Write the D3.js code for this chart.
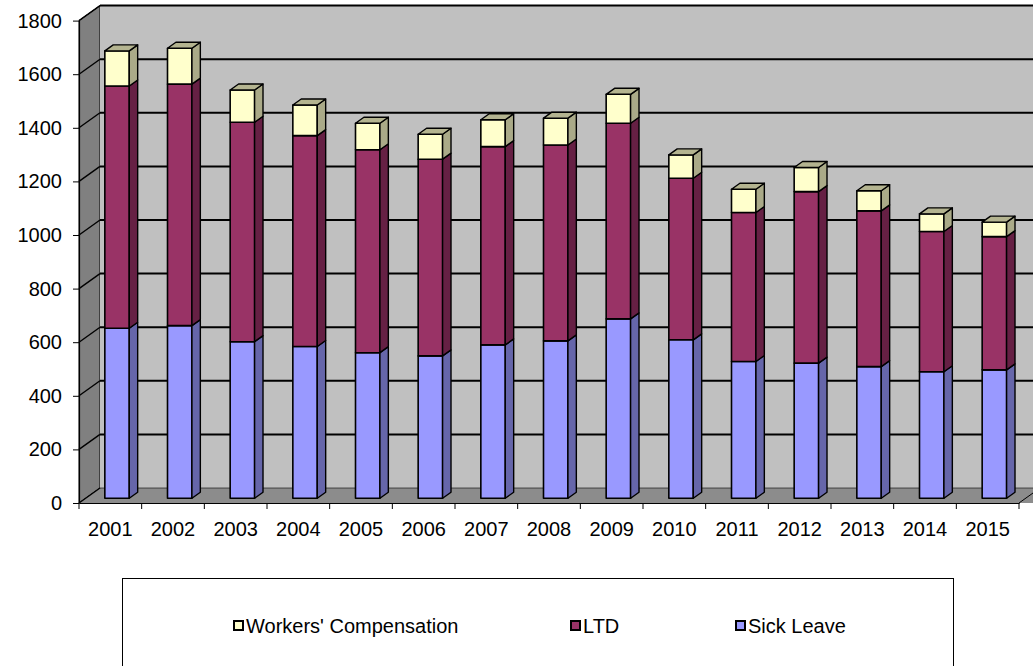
<!DOCTYPE html>
<html>
<head>
<meta charset="utf-8">
<script src="https://cdn.jsdelivr.net/npm/d3@7"></script>
<style>
  body { margin: 0; background: #fff; }
  svg { display: block; font-family: Arial, "Liberation Sans", sans-serif; }
</style>
</head>
<body>
<div id="chart"></div>
<script>
const years = ["2001","2002","2003","2004","2005","2006","2007","2008","2009","2010","2011","2012","2013","2014","2015"];
const sickLeave = [634, 644, 584, 566, 543, 531, 572, 587, 669, 591, 510, 504, 491, 472, 479];
const ltd = [904, 901, 819, 787, 757, 734, 740, 731, 730, 603, 556, 640, 581, 523, 497];
const workersComp = [131, 134, 120, 114, 99, 93, 100, 100, 108, 87, 87, 90, 75, 66, 54];
const yTicks = [0, 200, 400, 600, 800, 1000, 1200, 1400, 1600, 1800];

const series = [
  { name: "Sick Leave", values: sickLeave, front: "#9999ff", side: "#6666aa", topFill: "#8080d0" },
  { name: "LTD", values: ltd, front: "#993366", side: "#662044", topFill: "#7a2952" },
  { name: "Workers' Compensation", values: workersComp, front: "#ffffcc", side: "#aaaa88", topFill: "#b4b490" }
];
const legendOrder = ["Workers' Compensation", "LTD", "Sick Leave"];

const W = 1033, H = 666;
const plotLeft = 79, plotRight = 1019, base = 503;
const depth = { dx: 21, dy: -15 };
const f0 = 0.32, f1 = 0.72;
const fontSize = 20;
const fontFamily = "Arial, 'Liberation Sans', sans-serif";

const svg = d3.select("#chart").append("svg")
  .attr("width", W).attr("height", H);

const x = d3.scaleBand().domain(years).range([plotLeft, plotRight])
  .paddingInner(0.61).paddingOuter(0.305);
const y = d3.scaleLinear().domain([0, 1800]).range([base, 20.6]);

const pts = a => a.map(p => p.join(",")).join(" ");
const yTop = y(1800);

// left side wall
svg.append("polygon")
  .attr("points", pts([[plotLeft, base], [plotLeft + depth.dx, base + depth.dy], [plotLeft + depth.dx, yTop + depth.dy], [plotLeft, yTop]]))
  .attr("fill", "#808080").attr("stroke", "#000").attr("stroke-width", 1);

// back wall
svg.append("rect")
  .attr("x", plotLeft + depth.dx).attr("y", yTop + depth.dy)
  .attr("width", W - plotLeft - depth.dx + 5).attr("height", base - yTop)
  .attr("fill", "#c0c0c0");

// floor
svg.append("polygon")
  .attr("points", pts([[plotLeft, base], [plotLeft + depth.dx, base + depth.dy], [W + 5, base + depth.dy], [W + 5, base], [plotRight, base]]))
  .attr("fill", "#8c8c8c");
svg.append("line")
  .attr("x1", plotRight).attr("y1", base)
  .attr("x2", plotRight + depth.dx).attr("y2", base + depth.dy)
  .attr("stroke", "#000").attr("stroke-width", 1);

// gridlines: back wall + left wall diagonals
yTicks.forEach(t => {
  const yb = y(t) + depth.dy;
  svg.append("line")
    .attr("x1", plotLeft + depth.dx).attr("x2", W)
    .attr("y1", yb).attr("y2", yb)
    .attr("stroke", "#000").attr("stroke-width", t === 0 ? 0.6 : 2);
  svg.append("line")
    .attr("x1", plotLeft).attr("y1", y(t))
    .attr("x2", plotLeft + depth.dx).attr("y2", yb)
    .attr("stroke", "#000").attr("stroke-width", 1.4);
});

// bars
const bdx = (f1 - f0) * depth.dx, bdy = (f1 - f0) * depth.dy;
const ox = f0 * depth.dx, oy = f0 * depth.dy;
const bw = x.bandwidth();

years.forEach((yr, i) => {
  let cum = 0;
  const g = svg.append("g").attr("class", "bar");
  series.forEach((s, si) => {
    const v0 = cum, v1 = cum + s.values[i];
    cum = v1;
    const x0 = x(yr) + ox, x1 = x0 + bw;
    const yt = y(v1) + oy, yb = y(v0) + oy;
    g.append("rect")
      .attr("x", x0).attr("y", yt).attr("width", bw).attr("height", yb - yt)
      .attr("fill", s.front).attr("stroke", "#000").attr("stroke-width", 1.6)
      .attr("stroke-linejoin", "round");
    g.append("polygon")
      .attr("points", pts([[x1, yt], [x1 + bdx, yt + bdy], [x1 + bdx, yb + bdy], [x1, yb]]))
      .attr("fill", s.side).attr("stroke", "#000").attr("stroke-width", 1.4)
      .attr("stroke-linejoin", "round");
    if (si === series.length - 1) {
      g.append("polygon")
        .attr("points", pts([[x0, yt], [x0 + bdx, yt + bdy], [x1 + bdx, yt + bdy], [x1, yt]]))
        .attr("fill", s.topFill).attr("stroke", "#000").attr("stroke-width", 1.4)
        .attr("stroke-linejoin", "round");
    }
  });
});

// y axis
const yAxis = svg.append("g")
  .attr("transform", `translate(${plotLeft},0)`)
  .call(d3.axisLeft(y).tickValues(yTicks).tickFormat(d3.format("d"))
    .tickSize(6).tickPadding(11).tickSizeOuter(0));
yAxis.select(".domain").attr("stroke", "#000").attr("stroke-width", 1.2);
yAxis.selectAll("line").attr("stroke", "#000");
yAxis.selectAll("text").attr("font-size", fontSize).attr("fill", "#000")
  .attr("font-family", fontFamily);

// x axis
const xAxis = svg.append("g")
  .attr("transform", `translate(0,${base})`)
  .call(d3.axisBottom(x).tickSize(0).tickPadding(19).tickSizeOuter(0));
xAxis.select(".domain").attr("stroke", "#000").attr("stroke-width", 1.2);
xAxis.selectAll("text").attr("font-size", fontSize).attr("fill", "#000")
  .attr("font-family", fontFamily);
const step = x.step();
xAxis.selectAll(".edge").data(d3.range(years.length + 1)).enter()
  .append("line").attr("class", "edge")
  .attr("x1", i => plotLeft + i * step).attr("x2", i => plotLeft + i * step)
  .attr("y1", 0).attr("y2", 6)
  .attr("stroke", "#000").attr("stroke-width", 1);

// legend
svg.append("rect")
  .attr("x", 122.5).attr("y", 578.5).attr("width", 831).attr("height", 100)
  .attr("fill", "#fff").attr("stroke", "#000").attr("stroke-width", 1);

const legendX = [233, 570, 735];
const legend = svg.selectAll(".legend").data(legendOrder).enter()
  .append("g").attr("class", "legend")
  .attr("transform", (d, i) => `translate(${legendX[i]},620)`);
legend.append("rect")
  .attr("x", 1).attr("y", 1).attr("width", 9).attr("height", 9)
  .attr("fill", d => series.find(s => s.name === d).front)
  .attr("stroke", "#000").attr("stroke-width", 2);
legend.append("text")
  .attr("x", 13).attr("y", 5.5).attr("dy", "0.35em")
  .attr("font-size", fontSize).attr("font-family", fontFamily).attr("fill", "#000")
  .text(d => d);
</script>
</body>
</html>
